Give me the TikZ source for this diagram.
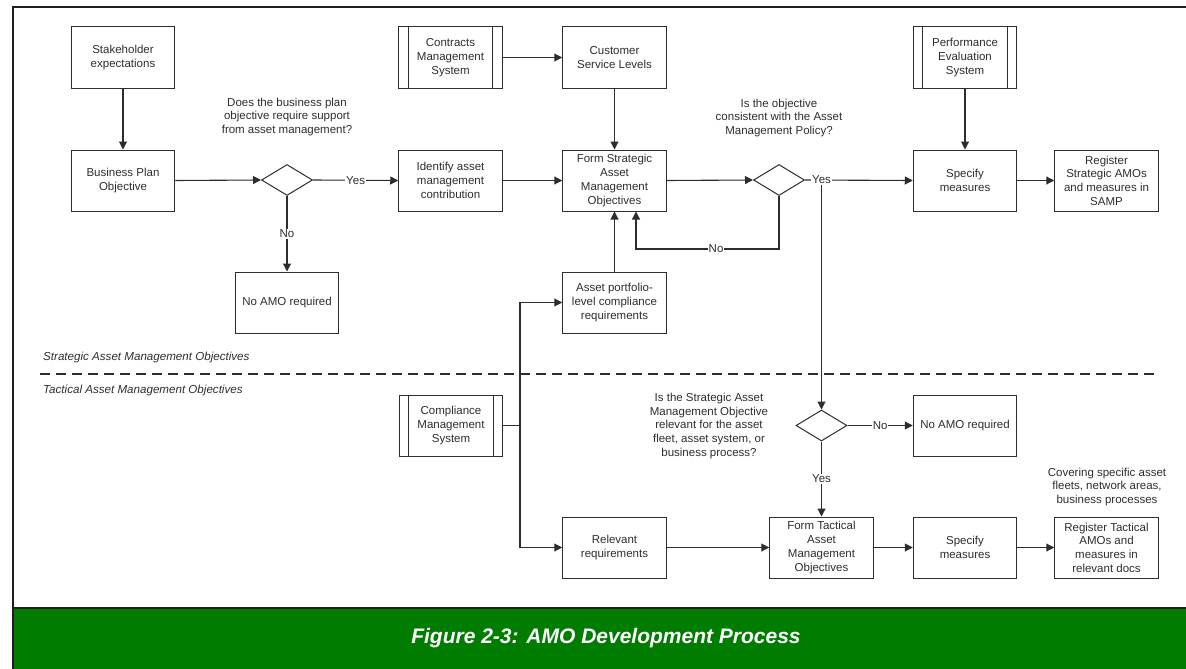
\documentclass[tikz,border=0pt]{standalone}
\usepackage{fontspec}
\setmainfont{Liberation Sans}
\usetikzlibrary{arrows.meta,shapes.geometric}

\definecolor{capgreen}{RGB}{0,125,0}
\definecolor{ink}{RGB}{45,45,45}
\definecolor{frame}{RGB}{30,30,30}

\begin{document}
\begin{tikzpicture}[x=1pt,y=-1pt,
  font=\fontsize{11.5}{13.7}\selectfont,
  box/.style={draw=ink, line width=1pt, minimum width=103.5pt, minimum height=61pt,
    align=center, inner sep=0pt, text=ink},
  decision/.style={draw=ink, line width=1pt, diamond, aspect=1.65,
    minimum width=51pt, minimum height=31pt, inner sep=0pt},
  note/.style={align=center, text=ink, inner sep=0pt},
  lbl/.style={fill=white, inner sep=1pt, text=ink},
  arr/.style={draw=ink, line width=1.1pt, -{Triangle[length=8pt,width=8pt]}},
  link/.style={draw=ink, line width=1.1pt},
  sep/.style={draw=ink, line width=1.4pt, dash pattern=on 10pt off 6pt},
  inner/.style={draw=ink, line width=1pt},
  level/.style={anchor=west, font=\fontsize{11.6}{14}\selectfont\itshape, text=ink, inner sep=0pt}]

\useasboundingbox (0,0) rectangle (1186,669);

% frame and caption band
\fill[capgreen] (13,609) rectangle (1186,669);
\draw[frame, line width=2pt] (1186,7) -- (13,7) -- (13,669);
\draw[frame, line width=2pt] (13,608) -- (1186,608);
\node[font=\fontsize{21}{25}\selectfont\bfseries\itshape, text=white] (cap) at (606,638)
  {Figure 2-3: AMO Development Process};

% strategic / tactical divider
\draw[sep] (40,374) -- (1160,374);
\node[level] (strat) at (43,357) {Strategic Asset Management Objectives};
\node[level] (tact) at (43,390) {Tactical Asset Management Objectives};

% strategic level
\node[box] (stake) at (123,57.5) {Stakeholder\\expectations};
\node[box] (bpo) at (123,180.5) {Business Plan\\Objective};
\node[decision] (d1) at (287,180) {};
\node[box] (noamo1) at (287,302.5) {No AMO required};
\node[box] (cms) at (450.5,57.5) {Contracts\\Management\\System};
\node[box] (csl) at (614.5,57.5) {Customer\\Service Levels};
\node[box] (iamc) at (450.5,180.5) {Identify asset\\management\\contribution};
\node[box] (fsamo) at (614.5,180.5) {Form Strategic\\Asset\\Management\\Objectives};
\node[box] (apl) at (614.5,302.5) {Asset portfolio-\\level compliance\\requirements};
\node[decision] (d2) at (779,180) {};
\node[box] (pes) at (965,57.5) {Performance\\Evaluation\\System};
\node[box] (sm1) at (965,180.5) {Specify\\measures};
\node[box] (reg1) at (1106.5,180.5) {Register\\Strategic AMOs\\and measures in\\SAMP};

\node[note] (q1) at (287,117) {Does the business plan\\objective require support\\from asset management?};
\node[note] (q2) at (779,118) {Is the objective\\consistent with the Asset\\Management Policy?};

% tactical level
\node[box] (cmpl) at (451,425.5) {Compliance\\Management\\System};
\node[decision] (d3) at (821.5,425.5) {};
\node[box] (noamo2) at (965,425.5) {No AMO required};
\node[box] (relreq) at (614.5,547.5) {Relevant\\requirements};
\node[box] (ftamo) at (821.5,547.5) {Form Tactical\\Asset\\Management\\Objectives};
\node[box] (sm2) at (965,547.5) {Specify\\measures};
\node[box] (reg2) at (1106.5,547.5) {Register Tactical\\AMOs and\\measures in\\relevant docs};

\node[note] (q3) at (709,426) {Is the Strategic Asset\\Management Objective\\relevant for the asset\\fleet, asset system, or\\business process?};
\node[note] (cover) at (1107,487) {Covering specific asset\\fleets, network areas,\\business processes};

% side bars of the system boxes
\foreach \n in {cms,pes,cmpl}{
  \draw[inner] ([xshift=10pt]\n.north west) -- ([xshift=10pt]\n.south west);
  \draw[inner] ([xshift=-10pt]\n.north east) -- ([xshift=-10pt]\n.south east);
}

% helper points
\coordinate (nobend) at (636,249);
\coordinate (yesjunc) at (821.5,180);
\coordinate (cj) at (520,425.5);

% connectors, strategic level
\draw[arr] (stake) -- (bpo);
\draw[arr] (bpo.east) -- (d1.west);
\draw[arr] (d1.east) -- node[lbl]{Yes} (iamc.west);
\draw[arr] (d1.south) -- node[lbl]{No} (noamo1.north);
\draw[arr] (cms) -- (csl);
\draw[arr] (csl) -- (fsamo);
\draw[arr] (iamc) -- (fsamo);
\draw[arr] (fsamo.east) -- (d2.west);
\draw[arr] (d2.south) |- node[lbl, pos=0.72]{No} (nobend) -- (nobend |- fsamo.south);
\draw[arr] (apl) -- (fsamo);
\draw[arr] (d2.east) -- (sm1.west);
\draw[arr] (pes) -- (sm1);
\draw[arr] (sm1) -- (reg1);

% connectors, tactical level
\draw[arr] (yesjunc) -- (d3.north);
\node[lbl] (yes2) at (yesjunc) {Yes};
\draw[link] (cmpl.east) -- (cj);
\draw[arr] (cj) |- (apl.west);
\draw[arr] (cj) |- (relreq.west);
\draw[arr] (d3.east) -- node[lbl]{No} (noamo2.west);
\draw[arr] (d3.south) -- node[lbl]{Yes} (ftamo.north);
\draw[arr] (relreq) -- (ftamo);
\draw[arr] (ftamo) -- (sm2);
\draw[arr] (sm2) -- (reg2);
\end{tikzpicture}
\end{document}
